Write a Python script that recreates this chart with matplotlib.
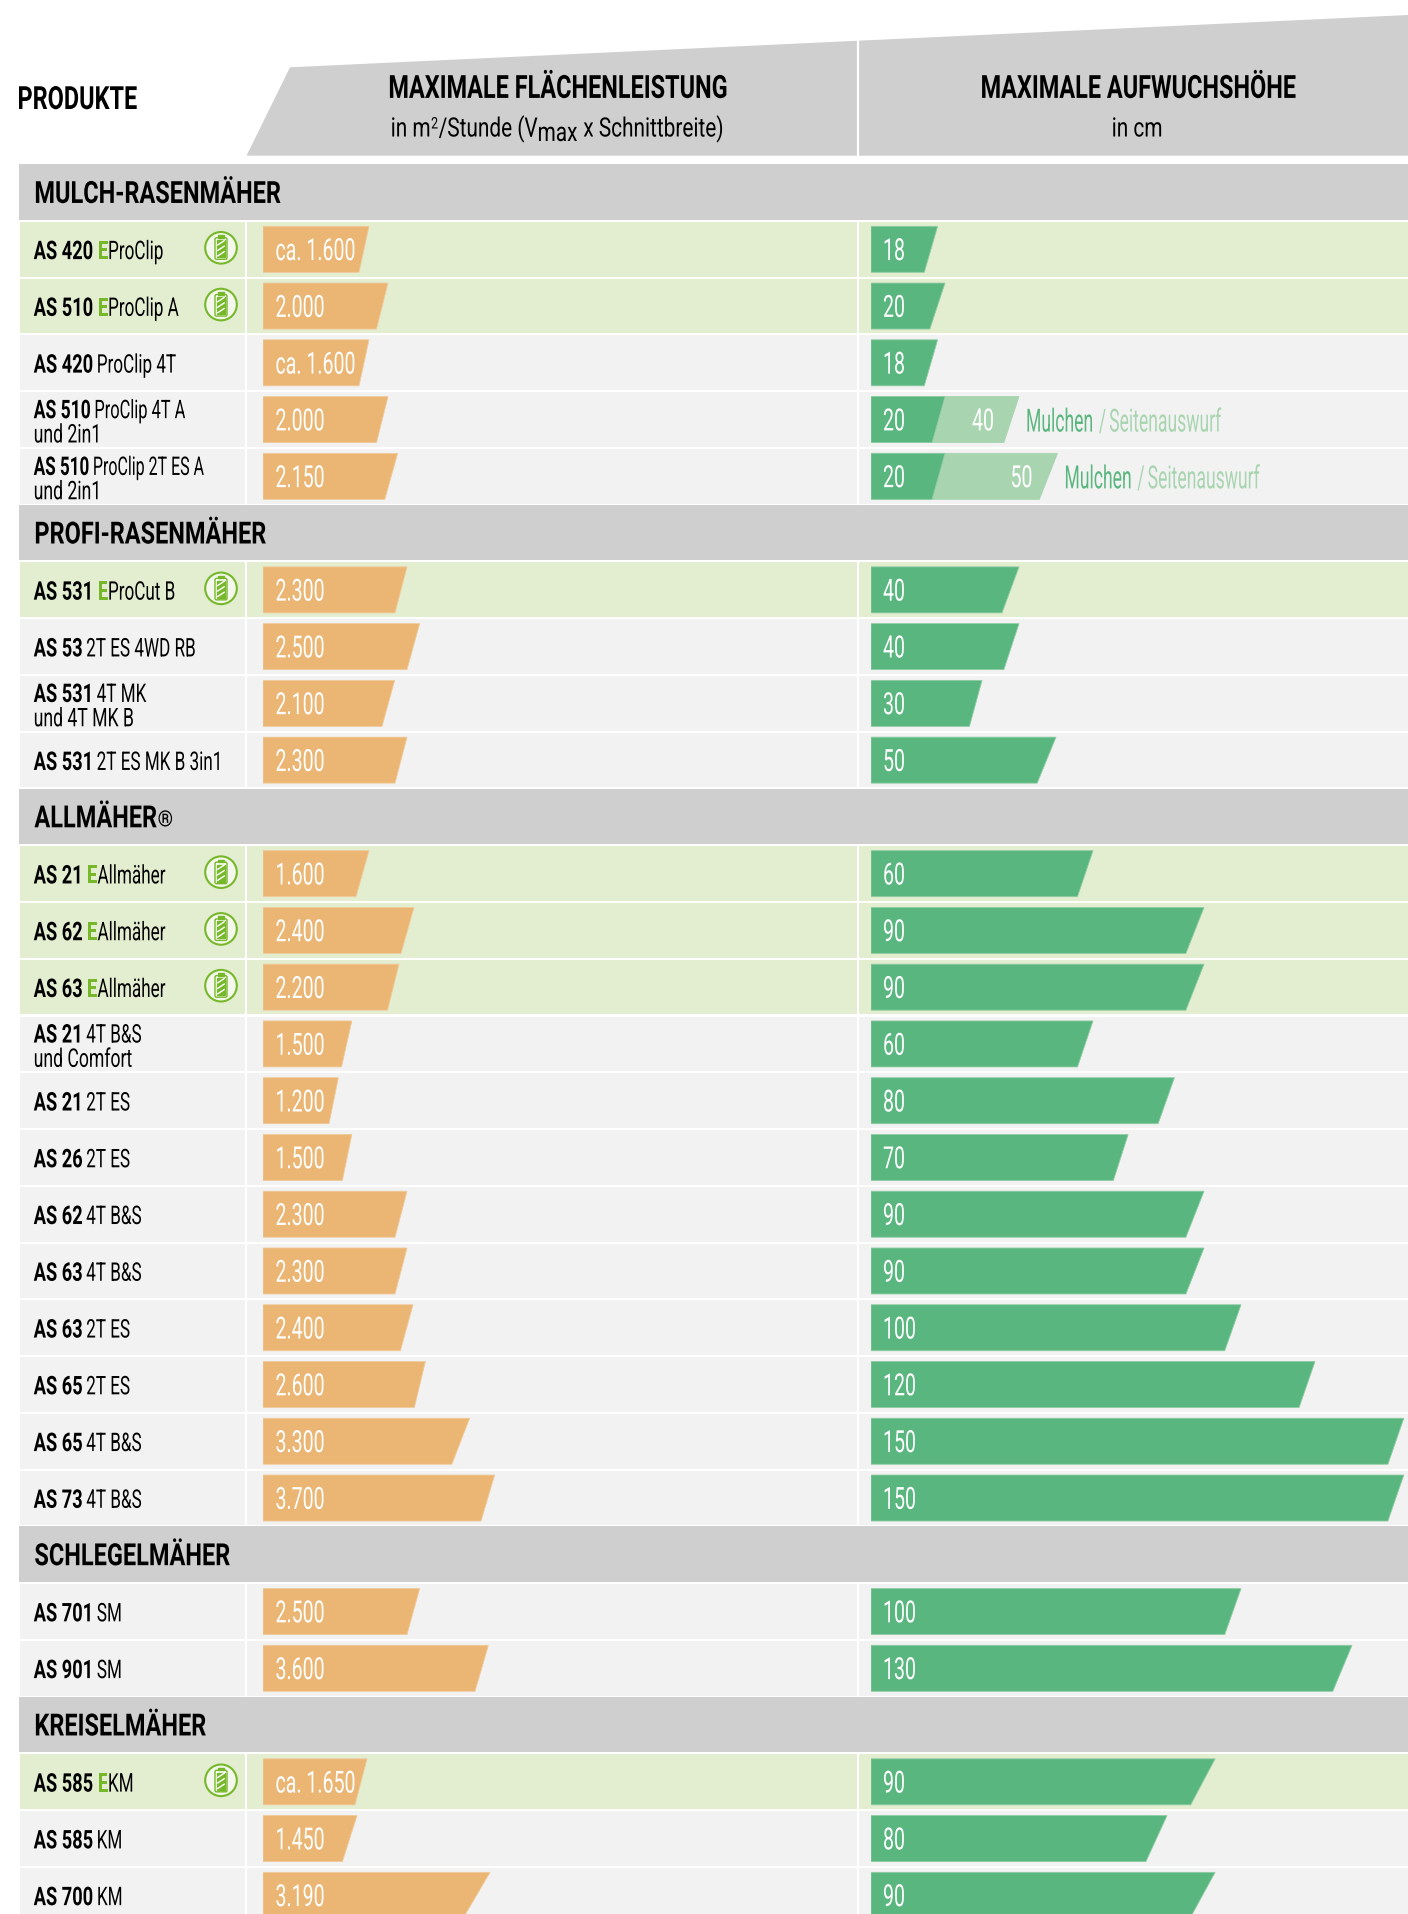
"""Rasenmäher-Vergleich: Flächenleistung und Aufwuchshöhe je Modell."""
import matplotlib
matplotlib.use("Agg")
import matplotlib.pyplot as plt
from matplotlib.patches import Circle, FancyBboxPatch, Polygon, Rectangle
from matplotlib.patheffects import AbstractPathEffect
from matplotlib.text import Text
from matplotlib.transforms import Affine2D, Bbox

gruppen = ["MULCH-RASENMÄHER", "PROFI-RASENMÄHER", "ALLMÄHER", "SCHLEGELMÄHER", "KREISELMÄHER"]
gruppen_marke = {2: "®"}
gruppen_anzahl = [5, 4, 12, 2, 3]

modell = ["AS 420", "AS 510", "AS 420", "AS 510", "AS 510",
          "AS 531", "AS 53", "AS 531", "AS 531",
          "AS 21", "AS 62", "AS 63", "AS 21", "AS 21", "AS 26", "AS 62", "AS 63", "AS 63", "AS 65", "AS 65", "AS 73",
          "AS 701", "AS 901",
          "AS 585", "AS 585", "AS 700"]
zusatz = ["ProClip", "ProClip A", "ProClip 4T", "ProClip 4T A", "ProClip 2T ES A",
          "ProCut B", "2T ES 4WD RB", "4T MK", "2T ES MK B 3in1",
          "Allmäher", "Allmäher", "Allmäher", "4T B&S", "2T ES", "2T ES", "4T B&S", "4T B&S", "2T ES", "2T ES", "4T B&S", "4T B&S",
          "SM", "SM",
          "KM", "KM", "KM"]
zeile2 = {3: "und 2in1", 4: "und 2in1", 7: "und 4T MK B", 12: "und Comfort"}
elektro = [0, 1, 5, 9, 10, 11, 23]

flaeche_text = ["ca. 1.600", "2.000", "ca. 1.600", "2.000", "2.150",
                "2.300", "2.500", "2.100", "2.300",
                "1.600", "2.400", "2.200", "1.500", "1.200", "1.500", "2.300", "2.300", "2.400", "2.600", "3.300", "3.700",
                "2.500", "3.600",
                "ca. 1.650", "1.450", "3.190"]
flaeche_oben = [1696, 2000, 1696, 2000, 2154,
                2304, 2506, 2106, 2304,
                1696, 2416, 2176, 1421, 1206, 1421, 2304, 2304, 2400, 2598, 3306, 3706,
                2506, 3606,
                1664, 1504, 3632]
flaeche_unten = [1536, 1816, 1536, 1816, 1949,
                 2112, 2304, 1904, 2112,
                 1488, 2208, 1992, 1256, 1056, 1270, 2112, 2112, 2198, 2421, 3021, 3488,
                 2304, 3392,
                 1472, 1270, 3200]

hoehe_text = ["18", "20", "18", "20", "20",
              "40", "40", "30", "50",
              "60", "90", "90", "60", "80", "70", "90", "90", "100", "120", "150", "150",
              "100", "130",
              "90", "80", "90"]
hoehe_oben = [18, 20, 18, 20, 20,
              40, 40, 30, 50,
              60, 90, 90, 60, 82, 69.5, 90, 90, 100, 120, 144, 144,
              100, 130,
              93, 80, 93]
hoehe_unten = [14.4, 15.9, 14.4, 16.5, 16.5,
               35.4, 35.9, 26.6, 44.9,
               55.8, 85.1, 85.1, 55.8, 77.6, 65.5, 85.1, 85.1, 95.6, 115.7, 139.7, 139.7,
               95.6, 124.8,
               86.4, 74.3, 86.2]

# Seitenauswurf (helle Balken)
seiten_zeile = [3, 4]
seiten_text = ["40", "50"]
seiten_oben = [40, 50.4]
seiten_unten = [35.9, 45.5]

GRAU = "#cfcfcf"
ZEILE = "#f2f2f2"
ZEILE_E = "#e3edd0"
ORANGE = "#ebb573"
GRUEN = "#5ab67f"
HELL = "#a8d5b0"
E_GRUEN = "#76b82a"

W, H = 1408, 1915
ROW_0 = 222.9
PITCH = 56.76
FONT = "Roboto"


class Squeeze(AbstractPathEffect):
    """Schmalschrift: Text horizontal um den Startpunkt stauchen."""

    def __init__(self, sx):
        super().__init__()
        self.sx = sx

    def draw_path(self, renderer, gc, tpath, affine, rgbFace=None):
        x0 = affine.get_matrix()[0, 2]
        squeezed = affine + Affine2D().translate(-x0, 0).scale(self.sx, 1).translate(x0, 0)
        renderer.draw_path(gc, tpath, squeezed, rgbFace)


class SchmalText(Text):
    """Text, dessen Ausdehnung die Stauchung mitzählt."""

    sx = 1.0

    def get_window_extent(self, renderer=None, dpi=None):
        bb = super().get_window_extent(renderer, dpi)
        return Bbox.from_extents(bb.x0, bb.y0, bb.x0 + bb.width * self.sx, bb.y1)


# size pt, weight, stauchung, halbe Versalhöhe px
STIL = {
    "kopf": (23, "bold", 0.735, 11.3),
    "unter": (19.2, "normal", 0.78, 9.5),
    "gruppe": (22, "bold", 0.77, 10.8),
    "fett": (18.5, "bold", 0.71, 9.2),
    "duenn": (18.5, "normal", 0.665, 9.2),
    "zahl": (22, "normal", 0.64, 10.8),
    "seite": (23, "normal", 0.55, 11.5),
}
# engere Zeilen im Original
ENG = {3: 0.96, 4: 0.935}

fig = plt.figure(figsize=(W / 100, H / 100), dpi=100)
fig.patch.set_facecolor("white")
ax = fig.add_axes([0, 0, 1, 1], zorder=1)
ax_txt = fig.add_axes([0, 0, 1, 1], zorder=3, facecolor="none")
renderer = fig.canvas.get_renderer()

# Wertachsen: 16 m²/Stunde bzw. 1/3.7 cm je Pixel
X_F, X_H = 263, 871
ax_f = fig.add_axes([X_F / W, 0, (857 - X_F) / W, 1], facecolor="none", zorder=2)
ax_f.set_xlim(0, (857 - X_F) * 16)
ax_h = fig.add_axes([X_H / W, 0, (W - X_H) / W, 1], facecolor="none", zorder=2)
ax_h.set_xlim(0, (W - X_H) / 3.7)
for a in (ax, ax_txt):
    a.set_xlim(0, W)
for a in (ax, ax_txt, ax_f, ax_h):
    a.set_ylim(H, 0)
    a.axis("off")


def schrift(x, yc, s, stil, color="black", dy=0, size=None, eng=1.0):
    size_pt, weight, sx, halb = STIL[stil]
    sx = sx * eng
    t = SchmalText(x, yc + halb + dy, s, fontsize=size or size_pt, fontweight=weight, family=FONT,
                   color=color, ha="left", va="baseline")
    t.sx = sx
    t.set_path_effects([Squeeze(sx)])
    ax_txt.add_artist(t)
    return x + t.get_window_extent(renderer).width


def balken(a, top, oben, unten, farbe, kante):
    a.add_patch(Polygon([(0, top), (oben, top), (unten, top + 46), (0, top + 46)], closed=True,
                        facecolor=farbe, edgecolor=kante, linewidth=0.6, zorder=3))


def batterie(cx, cy):
    ax_txt.add_patch(Circle((cx, cy), 15.8, facecolor="#f4f8ec", edgecolor=E_GRUEN, linewidth=1.5, zorder=4))
    ax_txt.add_patch(FancyBboxPatch((cx - 6, cy - 10), 12, 21.5, boxstyle="round,pad=0,rounding_size=1.5",
                                    facecolor="white", edgecolor=E_GRUEN, linewidth=1.0, zorder=5))
    ax_txt.add_patch(Rectangle((cx - 3, cy - 12.5), 6, 2.5, color=E_GRUEN, zorder=5))
    ax_txt.add_patch(Rectangle((cx - 3.8, cy - 7.5), 7.6, 17, color=E_GRUEN, zorder=5))
    for off in (-5, 0.5, 6):
        ax_txt.plot([cx - 3.8, cx + 3.8], [cy + off + 2.5, cy + off - 2.5], color="white", lw=1.0, zorder=5,
                    solid_capstyle="butt")


# Kopf
ax.add_patch(Polygon([(246.5, 156.7), (290, 68.3), (W, 16), (W, 156.7)], closed=True, color=GRAU, lw=0))
ax.plot([858, 858], [41, 157], color="white", lw=1.6, zorder=2)
schrift(17.5, 98.7, "PRODUKTE", "kopf")
schrift(388.4, 87.6, "MAXIMALE FLÄCHENLEISTUNG", "kopf")
schrift(980.6, 87.6, "MAXIMALE AUFWUCHSHÖHE", "kopf")

x = schrift(390.7, 128, "in m", "unter")
x = schrift(x + 0.5, 128, "2", "unter", dy=-8, size=11.5)
x = schrift(x + 0.5, 128, "/Stunde (V", "unter")
x = schrift(x, 128, "max", "unter", dy=4.5)
schrift(x + 6, 128, "x Schnittbreite)", "unter")
schrift(1111.7, 128, "in cm", "unter")

# Tabelle
k = -1
i = 0
for g, (name, n) in enumerate(zip(gruppen, gruppen_anzahl)):
    top = ROW_0 + k * PITCH
    ax.add_patch(Rectangle((18.5, top - 0.9), W - 18.5, 55.6, color=GRAU, lw=0, zorder=1))
    x = schrift(34.4, top + 27, name, "gruppe")
    if g in gruppen_marke:
        schrift(x + 1, top + 27, gruppen_marke[g], "gruppe", dy=-1, size=16, eng=1.15)
    k += 1
    for _ in range(n):
        top = ROW_0 + k * PITCH
        mitte = top + 27.4
        ist_e = i in elektro
        grund = ZEILE_E if ist_e else ZEILE
        ax.add_patch(Rectangle((19.5, top), W - 19.5, 54.7, color=grund, lw=0, zorder=1))
        ax.plot([246, 246], [top, top + 54.7], color="white", lw=1.5, zorder=2)
        ax.plot([858, 858], [top, top + 54.7], color="white", lw=1.5, zorder=2)

        y_txt = mitte + 0.6
        if i in zeile2:
            y_txt = mitte - 10.6
            schrift(33.7, mitte + 13.7, zeile2[i], "duenn", eng=1.03)
        x = schrift(33.7, y_txt, modell[i], "fett", eng=ENG.get(i, 1.0))
        if ist_e:
            x = schrift(x + 4.5, y_txt, "E", "fett", color=E_GRUEN)
            schrift(x, y_txt, zusatz[i], "duenn")
            batterie(221, mitte - 1.5)
        else:
            schrift(x + 3.5, y_txt, zusatz[i], "duenn", eng=ENG.get(i, 1.0))

        balken(ax_f, top + 4.4, flaeche_oben[i], flaeche_unten[i], ORANGE, "#f0cb9c")
        schrift(X_F + 12.5, mitte, flaeche_text[i], "zahl", color="white")

        if i in seiten_zeile:
            j = seiten_zeile.index(i)
            balken(ax_h, top + 4.4, seiten_oben[j], seiten_unten[j], HELL, HELL)
            xt = ax_h.transData.transform((seiten_oben[j], 0))[0]
            schrift(xt - 47, mitte, seiten_text[j], "zahl", color="white")
            x = schrift(xt + 7, mitte + 0.5, "Mulchen", "seite", color=GRUEN)
            x = schrift(x + 5.5, mitte + 0.5, "/", "seite", color=HELL)
            schrift(x + 3, mitte + 0.5, "Seitenauswurf", "seite", color=HELL)
        balken(ax_h, top + 4.4, hoehe_oben[i], hoehe_unten[i], GRUEN, "#8fcda4")
        schrift(X_H + 12, mitte, hoehe_text[i], "zahl", color="white")

        k += 1
        i += 1

fig.savefig("out.png", dpi=100, facecolor="white")
